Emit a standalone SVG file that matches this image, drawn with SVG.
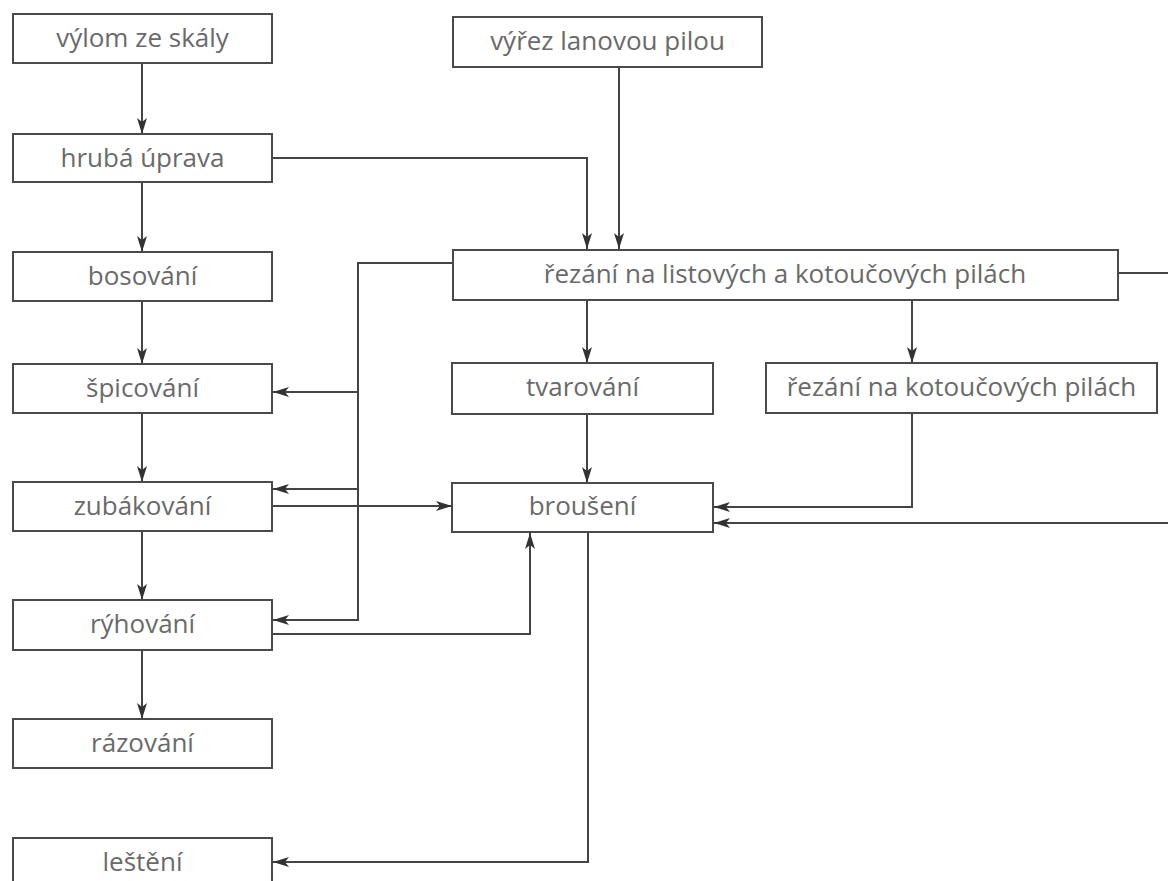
<svg xmlns="http://www.w3.org/2000/svg" width="1168" height="881" viewBox="0 0 1168 881">
<style>
.box{fill:#fff;stroke:#4a4a4a;stroke-width:2}
.lbl{font-family:"Open Sans","Liberation Sans",sans-serif;font-size:26px;fill:#6a6a6a;text-anchor:middle}
.c{fill:none;stroke:#444;stroke-width:2}
</style>
<defs>
<marker id="ah" viewBox="0 0 16 10" refX="16" refY="5" markerWidth="16" markerHeight="10" markerUnits="userSpaceOnUse" orient="auto">
<path d="M0,0 L16,5 L0,10 L4,5 Z" fill="#333"/>
</marker>
</defs>
<rect width="1168" height="881" fill="#fff"/>
<g id="connectors">
<path class="c" d="M142,63 V134" marker-end="url(#ah)"/>
<path class="c" d="M142,182 V252" marker-end="url(#ah)"/>
<path class="c" d="M142,301 V364" marker-end="url(#ah)"/>
<path class="c" d="M142,413 V482" marker-end="url(#ah)"/>
<path class="c" d="M142,531 V600" marker-end="url(#ah)"/>
<path class="c" d="M142,650 V719" marker-end="url(#ah)"/>
<path class="c" d="M272,158 H587 V249" marker-end="url(#ah)"/>
<path class="c" d="M619,67 V249" marker-end="url(#ah)"/>
<path class="c" d="M453,263 H358 V620 H273" marker-end="url(#ah)"/>
<path class="c" d="M358,392 H273" marker-end="url(#ah)"/>
<path class="c" d="M358,489 H273" marker-end="url(#ah)"/>
<path class="c" d="M272,506 H452" marker-end="url(#ah)"/>
<path class="c" d="M272,634 H530 V533" marker-end="url(#ah)"/>
<path class="c" d="M587,300 V363" marker-end="url(#ah)"/>
<path class="c" d="M912,300 V363" marker-end="url(#ah)"/>
<path class="c" d="M587,414 V483" marker-end="url(#ah)"/>
<path class="c" d="M912,413 V507 H714" marker-end="url(#ah)"/>
<path class="c" d="M1118,273 H1168"/>
<path class="c" d="M1168,523 H714" marker-end="url(#ah)"/>
<path class="c" d="M588,532 V862 H273" marker-end="url(#ah)"/>
</g>
<g id="n1"><rect class="box" x="13" y="14" width="259" height="49"/><text class="lbl" x="142.5" y="47">výlom ze skály</text></g>
<g id="n2"><rect class="box" x="13" y="134" width="259" height="48"/><text class="lbl" x="142.5" y="167">hrubá úprava</text></g>
<g id="n3"><rect class="box" x="13" y="252" width="259" height="49"/><text class="lbl" x="142.5" y="285">bosování</text></g>
<g id="n4"><rect class="box" x="13" y="364" width="259" height="49"/><text class="lbl" x="142.5" y="397">špicování</text></g>
<g id="n5"><rect class="box" x="13" y="482" width="259" height="49"/><text class="lbl" x="142.5" y="515">zubákování</text></g>
<g id="n6"><rect class="box" x="13" y="600" width="259" height="50"/><text class="lbl" x="142.5" y="633">rýhování</text></g>
<g id="n7"><rect class="box" x="13" y="719" width="259" height="49"/><text class="lbl" x="142.5" y="752">rázování</text></g>
<g id="n8"><rect class="box" x="13" y="838" width="259" height="50"/><text class="lbl" x="142.5" y="871">leštění</text></g>
<g id="n9"><rect class="box" x="453" y="17" width="309" height="50"/><text class="lbl" x="607.5" y="50">výřez lanovou pilou</text></g>
<g id="n10"><rect class="box" x="453" y="250" width="665" height="50"/><text class="lbl" x="785" y="283">řezání na listových a kotoučových pilách</text></g>
<g id="n11"><rect class="box" x="452" y="363" width="261" height="51"/><text class="lbl" x="582.5" y="396">tvarování</text></g>
<g id="n12"><rect class="box" x="766" y="363" width="391" height="50"/><text class="lbl" x="961.5" y="396">řezání na kotoučových pilách</text></g>
<g id="n13"><rect class="box" x="452" y="483" width="261" height="49"/><text class="lbl" x="582.5" y="515">broušení</text></g>
</svg>
